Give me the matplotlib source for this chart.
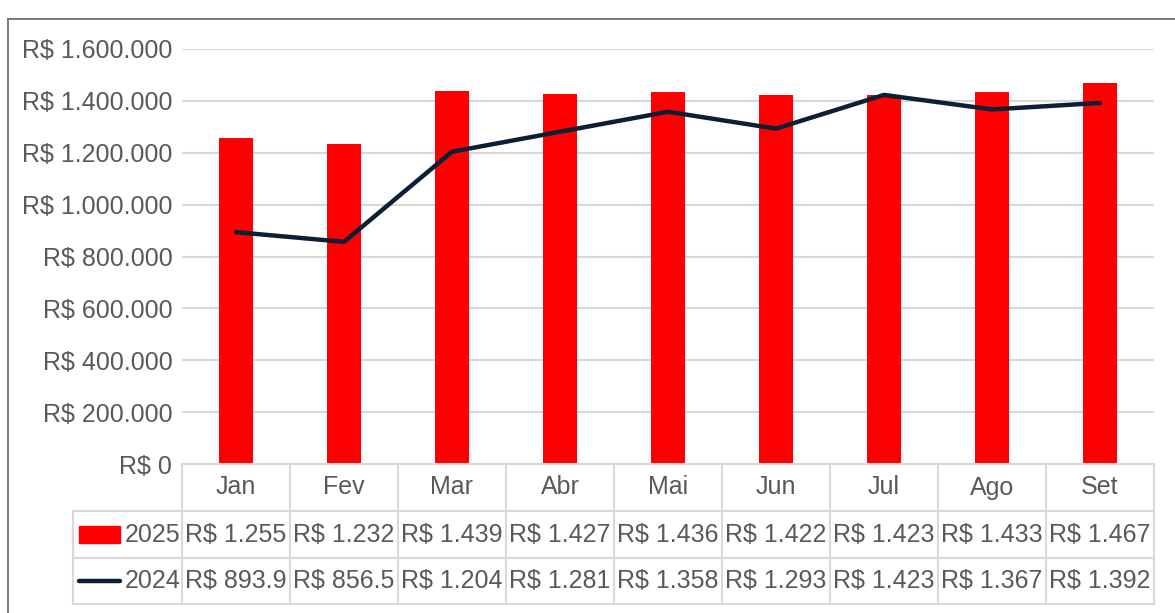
import matplotlib
matplotlib.use("Agg")
import matplotlib.pyplot as plt
from matplotlib.lines import Line2D
from matplotlib.patches import Rectangle
from matplotlib.ticker import FuncFormatter

months = ["Jan", "Fev", "Mar", "Abr", "Mai", "Jun", "Jul", "Ago", "Set"]
vals_2025 = [1255000, 1232000, 1439000, 1427000, 1436000, 1422000, 1423000, 1433000, 1467000]
vals_2024 = [893900, 856500, 1204000, 1281000, 1358000, 1293000, 1423000, 1367000, 1392000]
labels_2025 = ["R$ 1.255", "R$ 1.232", "R$ 1.439", "R$ 1.427", "R$ 1.436", "R$ 1.422", "R$ 1.423", "R$ 1.433", "R$ 1.467"]
labels_2024 = ["R$ 893.9", "R$ 856.5", "R$ 1.204", "R$ 1.281", "R$ 1.358", "R$ 1.293", "R$ 1.423", "R$ 1.367", "R$ 1.392"]
series_names = ["2025", "2024"]
yticks = [0, 200000, 400000, 600000, 800000, 1000000, 1200000, 1400000, 1600000]

plt.rcParams['font.family'] = ['Liberation Sans', 'DejaVu Sans']

W, H = 1175, 613
fig = plt.figure(figsize=(W / 100, H / 100), dpi=100)

ax_l, ax_r, ax_t, ax_b = 182, 1154, 49, 464
ax = fig.add_axes([ax_l / W, (H - ax_b) / H, (ax_r - ax_l) / W, (ax_b - ax_t) / H])

RED = "#FF0000"
NAVY = "#0B1F35"
GRID = "#D9D9D9"
TXT = "#595959"
FS = 18

x = list(range(len(months)))
ax.bar(x, vals_2025, width=0.32, color=RED, zorder=2)
ax.plot(x, vals_2024, color=NAVY, lw=3.2, solid_capstyle='round', solid_joinstyle='round', zorder=3)

ax.set_xlim(-0.5, len(months) - 0.5)
ax.set_ylim(0, 1600000)
ax.set_yticks(yticks)
ax.yaxis.set_major_formatter(FuncFormatter(lambda v, p: "R$ " + (f"{int(v):,}".replace(",", ".") if v else "0")))
ax.tick_params(axis='y', length=0, pad=7, labelsize=FS, labelcolor=TXT)
ax.set_xticks([])
ax.grid(axis='y', color=GRID, lw=1.5, zorder=0)
for s in ax.spines.values():
    s.set_visible(False)

# data table below the axes
tr = ax.get_xaxis_transform()
axh = ax_b - ax_t
def yf(ypix):
    return (ax_b - ypix) / axh

cat_w = (ax_r - ax_l) / len(months)
x_leg = -0.5 - (ax_l - 73) / cat_w
rows = [464, 511, 558, 604]
lkw = dict(color=GRID, lw=1.5, transform=tr, clip_on=False)

ax.add_line(Line2D([-0.5, len(months) - 0.5], [yf(rows[0])] * 2, **lkw))
for r in rows[1:]:
    ax.add_line(Line2D([x_leg, len(months) - 0.5], [yf(r)] * 2, **lkw))
for i in range(len(months) + 1):
    ax.add_line(Line2D([i - 0.5] * 2, [yf(rows[0]), yf(rows[3])], **lkw))
ax.add_line(Line2D([x_leg] * 2, [yf(rows[1]), yf(rows[3])], **lkw))

for i, m in enumerate(months):
    ax.text(i, yf((rows[0] + rows[1]) / 2), m, transform=tr, ha='center', va='center',
            fontsize=FS, color=TXT, clip_on=False)
    ax.text(i, yf((rows[1] + rows[2]) / 2), labels_2025[i], transform=tr, ha='center', va='center',
            fontsize=FS, color=TXT, clip_on=False)
    ax.text(i, yf((rows[2] + rows[3]) / 2), labels_2024[i], transform=tr, ha='center', va='center',
            fontsize=FS, color=TXT, clip_on=False)

# legend keys in table
px = 1 / cat_w
ax.add_patch(Rectangle((x_leg + 6 * px, yf(543)), 41 * px, yf(526) - yf(543), transform=tr,
                       color=RED, clip_on=False))
ax.add_line(Line2D([x_leg + 6 * px, x_leg + 47 * px], [yf(581)] * 2, color=NAVY, lw=3.2,
                   solid_capstyle='round', transform=tr, clip_on=False))
for nm, r in zip(series_names, [1, 2]):
    ax.text(-0.5 - 2 * px, yf((rows[r] + rows[r + 1]) / 2), nm, transform=tr, ha='right', va='center',
            fontsize=FS, color=TXT, clip_on=False)

# outer chart frame
FR = "#707070"
fig.add_artist(Line2D([8 / W, 1.0], [1 - 19 / H] * 2, color=FR, lw=1.3, transform=fig.transFigure))
fig.add_artist(Line2D([8 / W] * 2, [0, 1 - 19 / H], color=FR, lw=1.3, transform=fig.transFigure))

fig.savefig("out.png", dpi=100)
